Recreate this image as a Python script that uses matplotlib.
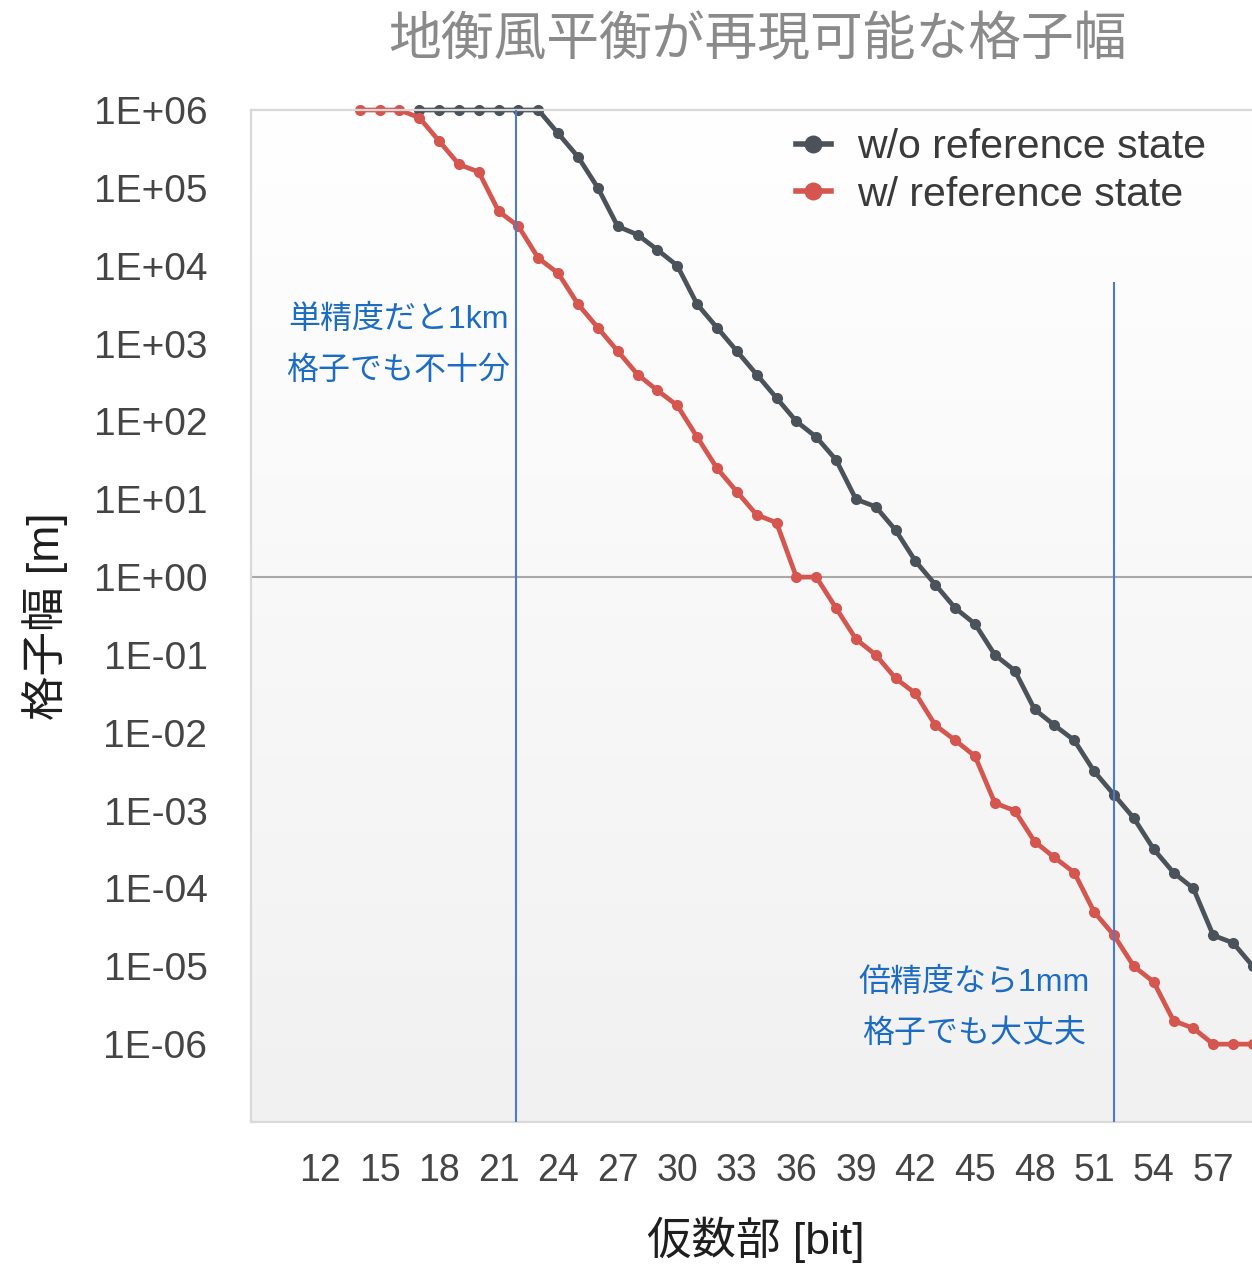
import numpy as np
import matplotlib
matplotlib.use("Agg")
import matplotlib.pyplot as plt
from matplotlib.colors import LinearSegmentedColormap

# ---- data -------------------------------------------------------------
title = "地衡風平衡が再現可能な格子幅"
x_label = "仮数部 [bit]"
y_label = "格子幅 [m]"

series_names = ["w/o reference state", "w/ reference state"]

bits_noref = list(range(17, 60))
width_noref = [1e6, 1e6, 1e6, 1e6, 1e6, 1e6, 1e6,
               5e5, 2.5e5, 1e5, 3.2e4, 2.5e4, 1.6e4, 1e4,
               3.2e3, 1.6e3, 800, 400, 200, 100, 63, 32,
               10, 8, 4, 1.6, 0.8, 0.4, 0.25, 0.1, 0.063,
               0.02, 0.0125, 0.008, 3.2e-3, 1.6e-3, 8e-4,
               3.2e-4, 1.6e-4, 1e-4, 2.5e-5, 2e-5, 1e-5]

bits_ref = list(range(14, 60))
width_ref = [1e6, 1e6, 1e6, 8e5, 4e5, 2e5, 1.6e5, 5e4, 3.2e4, 1.25e4,
             8e3, 3.2e3, 1.6e3, 800, 400, 250, 160, 63, 25, 12.5,
             6.3, 5, 1, 1, 0.4, 0.16, 0.1, 0.05, 0.032, 0.0125,
             0.008, 0.005, 1.25e-3, 1e-3, 4e-4, 2.5e-4, 1.6e-4, 5e-5,
             2.5e-5, 1e-5, 6.3e-6, 2e-6, 1.6e-6, 1e-6, 1e-6, 1e-6]

x_ticks = [12, 15, 18, 21, 24, 27, 30, 33, 36, 39, 42, 45, 48, 51, 54, 57]
y_ticks = [1e6, 1e5, 1e4, 1e3, 1e2, 1e1, 1e0, 1e-1, 1e-2, 1e-3, 1e-4, 1e-5, 1e-6]
y_tick_labels = ["1E+06", "1E+05", "1E+04", "1E+03", "1E+02", "1E+01", "1E+00",
                 "1E-01", "1E-02", "1E-03", "1E-04", "1E-05", "1E-06"]

single_bits = 21.9
double_bits = 52
note_single = "単精度だと1km\n格子でも不十分"
note_double = "倍精度なら1mm\n格子でも大丈夫"

# ---- style ------------------------------------------------------------
plt.rcParams['font.family'] = ['Liberation Sans', 'Noto Sans CJK JP', 'DejaVu Sans']
CJK = ['Noto Sans CJK JP', 'DejaVu Sans']
MIX = ['Liberation Sans', 'Noto Sans CJK JP', 'DejaVu Sans']

c_dark = "#4c525a"
c_red = "#d4564f"
c_blue = "#4a7bd0"
c_note = "#1c6cc4"

W, H = 1252, 1265
fig = plt.figure(figsize=(W / 100, H / 100), dpi=100)


def fx(px):
    return px / W


def fy(py):
    return 1 - py / H


x_min, x_max = 8.5, 60.5
px_per_bit = 19.85
left_px, top_px, bottom_px = 250.5, 110, 1122
right_px = left_px + (x_max - x_min) * px_per_bit
rect = [fx(left_px), fy(bottom_px), (right_px - left_px) / W, (bottom_px - top_px) / H]

# soft vertical gradient behind the plot area
bg = fig.add_axes(rect, zorder=0)
grad = np.linspace(1.0, 0.0, 256)[:, None]
cmap = LinearSegmentedColormap.from_list("bg", ["#f1f1f1", "#ffffff"])
bg.imshow(grad, cmap=cmap, aspect="auto", extent=[0, 1, 0, 1], vmin=0, vmax=1)
bg.set_axis_off()

ax = fig.add_axes(rect, zorder=1)
ax.patch.set_alpha(0)
ax.set_yscale("log")
ax.set_xlim(x_min, x_max)
ax.set_ylim(1e-7, 1e6)

for side in ("left", "top", "bottom"):
    ax.spines[side].set_color("#d9d9d9")
    ax.spines[side].set_linewidth(1.6)
ax.spines["right"].set_visible(False)

ax.axhline(1.0, color="#a8a8a8", lw=1.5, zorder=1.5)

line_kw = dict(lw=3.4, marker="o", markersize=7.0, solid_joinstyle="round", zorder=2)
h_dark, = ax.plot(bits_noref, width_noref, color=c_dark, label=series_names[0], **line_kw)
h_red, = ax.plot(bits_ref, width_ref, color=c_red, label=series_names[1], **line_kw)
for h in (h_dark, h_red):
    h.set_clip_on(False)

ax.axvline(single_bits, color=c_blue, lw=1.5, zorder=3)
ax.axvline(double_bits, ymin=0, ymax=(bottom_px - 283) / (bottom_px - top_px),
           color=c_blue, lw=1.5, zorder=3)

ax.set_xticks(x_ticks)
ax.set_xticklabels([str(v) for v in x_ticks])
ax.set_yticks(y_ticks)
ax.set_yticklabels(y_tick_labels)
ax.yaxis.set_minor_locator(matplotlib.ticker.NullLocator())
ax.tick_params(axis="y", length=0, pad=31, labelsize=28, labelcolor="#454545")
ax.tick_params(axis="x", length=0, pad=22, labelsize=27, labelcolor="#454545")

# titles
fig.text(fx(757), fy(40), title, ha="center", va="center", fontsize=38,
         color="#8a8a8a", family=CJK)
fig.text(fx(756), fy(1240), x_label, ha="center", va="center", fontsize=32,
         color="#1e1e1e", family=MIX)
fig.text(fx(45), fy(616), y_label, ha="center", va="center", fontsize=32,
         color="#1e1e1e", rotation=90, family=MIX)

# notes
fig.text(fx(398), fy(345), note_single, ha="center", va="center", fontsize=23,
         color=c_note, family=MIX, linespacing=1.9)
fig.text(fx(974), fy(1008), note_double, ha="center", va="center", fontsize=23,
         color=c_note, family=MIX, linespacing=1.9)

leg = fig.legend(handles=[h_dark, h_red], loc="upper left",
                 bbox_to_anchor=(fx(796), fy(128)), frameon=False,
                 fontsize=29.5, handlelength=0.85, handletextpad=0.65,
                 labelspacing=0.24, borderpad=0, borderaxespad=0,
                 markerscale=1.7)
for t in leg.get_texts():
    t.set_color("#3a3a3a")
for lh in leg.legend_handles:
    lh.set_linewidth(4.0)

fig.savefig("out.png", dpi=100)
